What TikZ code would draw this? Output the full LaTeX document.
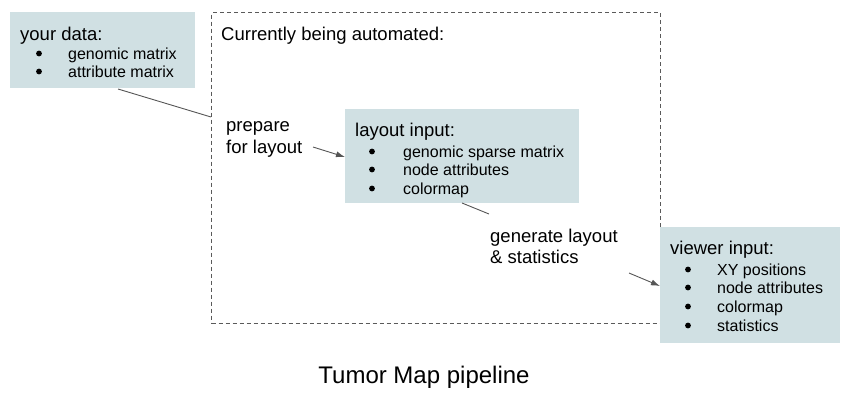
\documentclass[tikz,border=0pt]{standalone}
\usepackage{fontspec}
\setmainfont{Liberation Sans}
\usetikzlibrary{arrows.meta}
\definecolor{boxfill}{HTML}{D0E0E3}
\definecolor{linegray}{HTML}{555555}
\definecolor{dashgray}{HTML}{5A5A5A}
\begin{document}
\begin{tikzpicture}[x=1pt,y=-1pt,
  box/.style={fill=boxfill,draw=none,inner sep=0pt,anchor=north west},
  head/.style={anchor=base west,inner sep=0pt,font=\fontsize{18.5}{22}\selectfont},
  item/.style={anchor=base west,inner sep=0pt,font=\fontsize{16}{19}\selectfont},
  bul/.style={circle,fill=black,inner sep=0pt,minimum size=5.8pt},
  conn/.style={draw=linegray,line width=0.9pt},
  arr/.style={conn,-{Latex[length=9pt,width=6pt]}}]
\useasboundingbox (0,0) rectangle (860,408);
% dashed region
\node[draw=dashgray,dash pattern=on 4pt off 3pt,line width=1.3pt,inner sep=0pt,anchor=north west,minimum width=449pt,minimum height=311pt] (auto) at (211,12) {};
\node[head] (autot) at (221,40) {Currently being automated:};
% your data
\node[box,minimum width=185pt,minimum height=76pt] (yd) at (10,12) {};
\node[head] (ydh) at (20,40) {your data:};
\node[bul] (ydb1) at (39,53.5) {};
\node[item] (ydi1) at (68,59) {genomic matrix};
\node[bul] (ydb2) at (39,71.5) {};
\node[item] (ydi2) at (68,77) {attribute matrix};
% layout input
\node[box,minimum width=234pt,minimum height=94pt] (li) at (345,109) {};
\node[head] (lih) at (355,136) {layout input:};
\node[bul] (lib1) at (372,151.5) {};
\node[item] (lii1) at (403,157) {genomic sparse matrix};
\node[bul] (lib2) at (372,169.5) {};
\node[item] (lii2) at (403,175) {node attributes};
\node[bul] (lib3) at (372,188.5) {};
\node[item] (lii3) at (403,194) {colormap};
% viewer input
\node[box,minimum width=180pt,minimum height=116pt] (vi) at (660,227) {};
\node[head] (vih) at (670,254) {viewer input:};
\node[bul] (vib1) at (688,269.5) {};
\node[item] (vii1) at (717,275) {XY positions};
\node[bul] (vib2) at (688,287.5) {};
\node[item] (vii2) at (717,293) {node attributes};
\node[bul] (vib3) at (688,306.5) {};
\node[item] (vii3) at (717,312) {colormap};
\node[bul] (vib4) at (688,325.5) {};
\node[item] (vii4) at (717,331) {statistics};
% step labels
\node[head] (prep1) at (226,131) {prepare};
\node[head] (prep2) at (226,153) {for layout};
\node[head] (gen1) at (490,242) {generate layout};
\node[head] (gen2) at (490,263) {\& statistics};
% title
\node[anchor=base,inner sep=0pt,font=\fontsize{24}{28}\selectfont] (title) at (424,383) {Tumor Map pipeline};
% connectors
\coordinate (c1s) at (118,89);
\coordinate (c1e) at (211,117);
\coordinate (c2s) at (313,147);
\coordinate (c3s) at (462,203);
\coordinate (c3e) at (489,214);
\coordinate (c4s) at (629,273);
\draw[conn] (c1s) -- (c1e);
\draw[arr] (c2s) -- (li.west |- 0,157);
\draw[conn] (c3s) -- (c3e);
\draw[arr] (c4s) -- (vi.west |- 0,286);
\end{tikzpicture}
\end{document}
